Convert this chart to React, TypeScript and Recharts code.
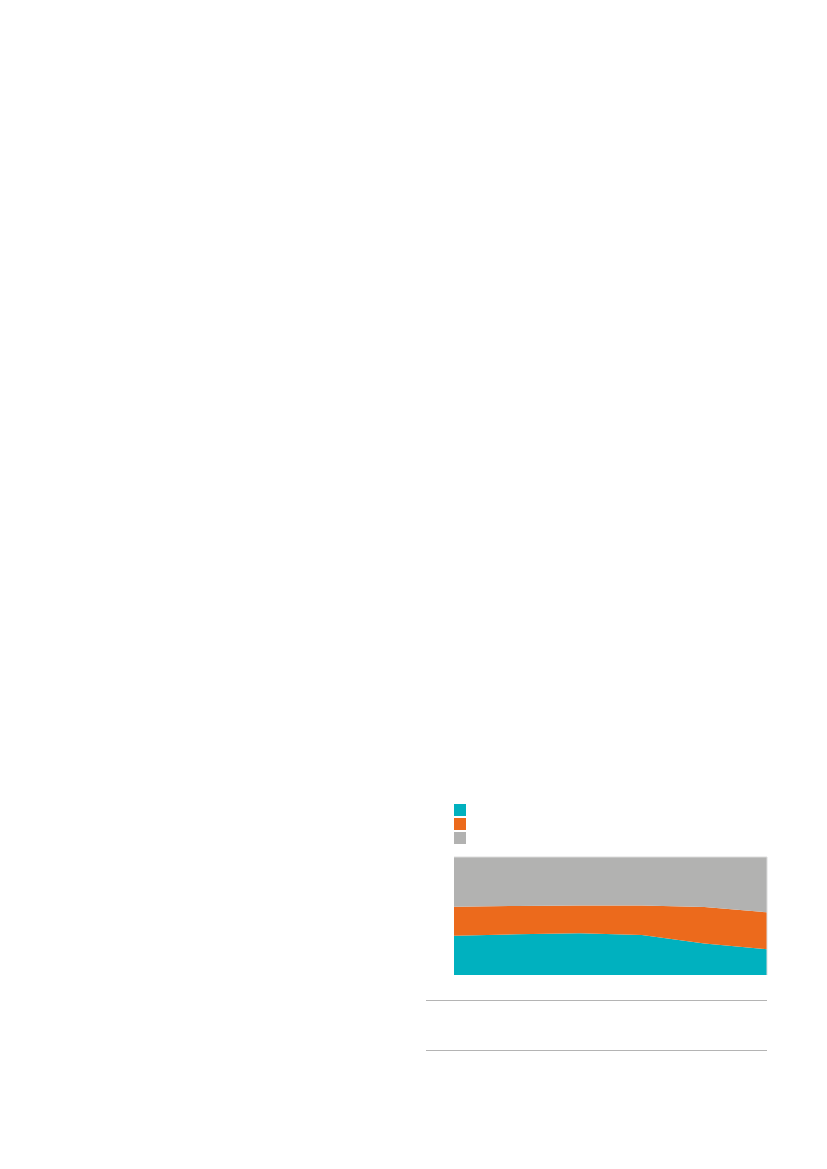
import { AreaChart, Area, XAxis, YAxis, ReferenceLine } from "recharts";

const periods = ["p1", "p2", "p3", "p4", "p5", "p6"];
const tealShare = [33.3, 34.5, 35.3, 33.9, 26.8, 21.8];
const orangeShare = [24.6, 24.0, 23.5, 24.9, 30.8, 31.3];
const greyShare = [42.1, 41.5, 41.2, 41.2, 42.4, 46.9];

const seriesColors = ["#00b1bf", "#ec6a1c", "#b2b2b1"];

const rows = periods.map((p, i) => ({
  period: p,
  teal: tealShare[i],
  orange: orangeShare[i],
  grey: greyShare[i],
}));

function Swatches() {
  return (
    <div style={{ position: "absolute", left: 454, top: 804 }}>
      {seriesColors.map((c) => (
        <div key={c} style={{ width: 12, height: 12, background: c, marginBottom: 2 }} />
      ))}
    </div>
  );
}

export default function App() {
  return (
    <div style={{ position: "absolute", left: 0, top: 0, width: 827, height: 1169, background: "#fff" }}>
      <Swatches />
      <div style={{ position: "absolute", left: 450, top: 850 }}>
        <AreaChart
          width={322}
          height={130}
          data={rows}
          margin={{ top: 7, right: 5, left: 4, bottom: 5 }}
        >
          <XAxis
            dataKey="period"
            height={0}
            tick={false}
            tickLine={false}
            axisLine={{ stroke: "#6b6b6b", strokeWidth: 1.5 }}
          />
          <YAxis
            width={0}
            domain={[0, 100]}
            tick={false}
            tickLine={false}
            axisLine={{ stroke: "#6b6b6b", strokeWidth: 1.5 }}
          />
          <Area type="linear" dataKey="teal" stackId="s" stroke="none" fill={seriesColors[0]} fillOpacity={1} isAnimationActive={false} />
          <Area type="linear" dataKey="orange" stackId="s" stroke="none" fill={seriesColors[1]} fillOpacity={1} isAnimationActive={false} />
          <Area type="linear" dataKey="grey" stackId="s" stroke="none" fill={seriesColors[2]} fillOpacity={1} isAnimationActive={false} />
          <ReferenceLine y={100} stroke="#dcdcdc" strokeWidth={1} />
          <ReferenceLine x={periods[periods.length - 1]} stroke="#dcdcdc" strokeWidth={1} />
        </AreaChart>
      </div>
      <div style={{ position: "absolute", left: 426, top: 1000, width: 341, borderTop: "1px solid #b4b4b4" }} />
      <div style={{ position: "absolute", left: 426, top: 1050, width: 341, borderTop: "1px solid #b4b4b4" }} />
    </div>
  );
}
